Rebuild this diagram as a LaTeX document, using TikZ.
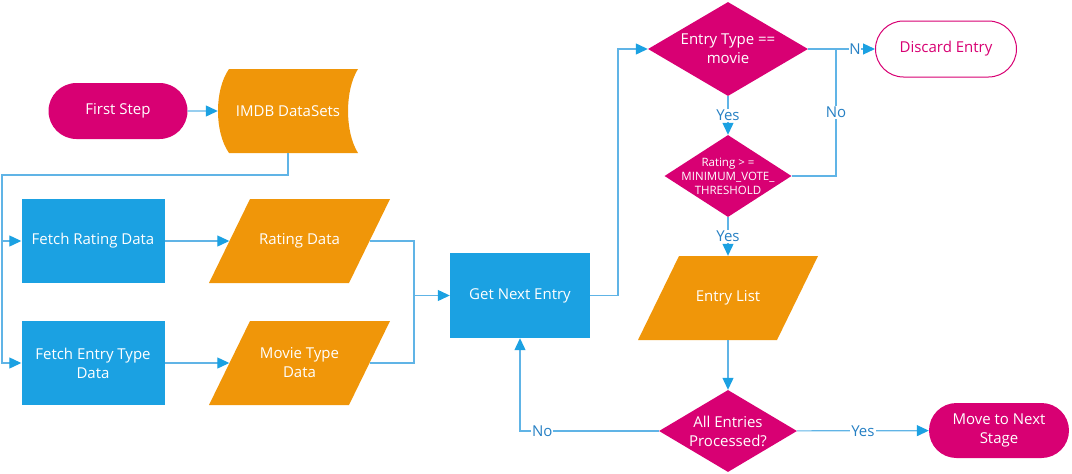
\documentclass[tikz,border=0pt]{standalone}
\usepackage{fontspec}
\setmainfont{Open Sans}
\usetikzlibrary{shapes.geometric,shapes.misc,arrows.meta}
\definecolor{mgx}{RGB}{216,0,115}
\definecolor{blx}{RGB}{27,161,226}
\definecolor{orx}{RGB}{240,150,9}
\definecolor{lnx}{RGB}{96,180,230}
\definecolor{lbx}{RGB}{38,128,196}
\tikzset{
    term/.style={rounded rectangle,fill=mgx,text=white,minimum width=139pt,minimum height=56pt,inner sep=0pt,align=center},
    proc/.style={rectangle,fill=blx,text=white,minimum width=143pt,minimum height=84pt,inner sep=0pt,align=center},
    iodat/.style={rectangle,text=white,minimum width=181pt,minimum height=84pt,inner sep=0pt,align=center,
        path picture={
            \fill[orx] ([xshift=41pt]path picture bounding box.north west)
                -- (path picture bounding box.north east)
                -- ([xshift=-41pt]path picture bounding box.south east)
                -- (path picture bounding box.south west) -- cycle;
        }},
    stored/.style={rectangle,text=white,minimum width=140pt,minimum height=84pt,inner sep=0pt,
        path picture={
            \fill[orx] ([xshift=11pt]path picture bounding box.north west)
                .. controls ([xshift=-3.7pt,yshift=-21pt]path picture bounding box.north west)
                and ([xshift=-3.7pt,yshift=21pt]path picture bounding box.south west)
                .. ([xshift=11pt]path picture bounding box.south west)
                -- (path picture bounding box.south east)
                .. controls ([xshift=-13.3pt,yshift=21pt]path picture bounding box.south east)
                and ([xshift=-13.3pt,yshift=-21pt]path picture bounding box.north east)
                .. (path picture bounding box.north east) -- cycle;
        }},
    decis/.style={diamond,fill=mgx,inner sep=0pt},
    dtext/.style={label={[text=white,align=center]center:#1}},
    wire/.style={lnx,line width=1.2pt},
    flow/.style={wire,-{Triangle[length=12pt,width=11pt,color=blx]}},
    lbl/.style={fill=white,text=lbx,inner sep=1pt}
}

\begin{document}
\begin{tikzpicture}[x=1pt,y=-1pt,font=\fontsize{15}{19}\selectfont]
    \useasboundingbox (0,0) rectangle (1072,474);
    \node [term] (first) at (118,111) {First Step};
    \node [stored] (imdb) at (288,111) {IMDB DataSets};
    \node [proc] (fetchR) at (93,241) {Fetch Rating Data};
    \node [proc] (fetchE) at (93,363) {Fetch Entry Type\\Data};
    \node [iodat] (ratD) at (299.5,241) {Rating Data};
    \node [iodat] (movD) at (299.5,363) {Movie Type\\Data};
    \node [proc,minimum width=140pt,minimum height=85pt] (getN) at (520,295.5) {Get Next Entry};
    \node [decis,minimum width=160pt,minimum height=94pt,dtext={Entry Type ==\\movie}] (typeQ) at (728,49) {};
    \node [term,fill=white,draw=mgx,line width=1pt,text=mgx,minimum width=141pt] (discard) at (946,49) {Discard Entry};
    \node [decis,minimum width=127pt,minimum height=82pt,
        label={[text=white,align=center,font=\fontsize{11.5}{14}\selectfont]center:{Rating > =\\MINIMUM\_VOTE\_\\THRESHOLD}}] (rateQ) at (728,176) {};
    \node [iodat,minimum width=180pt] (entL) at (728,298) {Entry List};
    \node [decis,minimum width=138pt,minimum height=82pt,dtext={All Entries\\Processed?}] (allQ) at (728,431) {};
    \node [term,minimum width=140pt,minimum height=55pt] (nextS) at (999,430.5) {Move to Next\\Stage};

    \coordinate (busL) at (2,175);
    \coordinate (joinA) at (414,295.5);
    \coordinate (riseA) at (618,49);
    \coordinate (joinB) at (836,49);

    \draw [flow] (first) -- (imdb);
    \draw [flow] (imdb.south) |- (busL) |- (fetchR.west);
    \draw [flow] (busL) |- (fetchE.west);
    \draw [flow] (fetchR) -- ([xshift=20.5pt]ratD.west);
    \draw [flow] (fetchE) -- ([xshift=20.5pt]movD.west);
    \draw [wire] ([xshift=-20.5pt]ratD.east) -| (joinA);
    \draw [wire] ([xshift=-20.5pt]movD.east) -| (joinA);
    \draw [flow] (joinA) -- (getN);
    \draw [flow] (getN.east) -| (riseA) -- (typeQ.west);
    \draw [flow] (typeQ) -- node [lbl] {Yes} (rateQ);
    \draw [flow] (typeQ) -- node [lbl,pos=0.7,inner sep=0.5pt] {N} (discard);
    \draw [wire] (rateQ.east) -| node [lbl,pos=0.75] {No} (joinB);
    \draw [flow] (rateQ) -- node [lbl] {Yes} (entL);
    \draw [flow] (entL) -- (allQ);
    \draw [flow] (allQ.west) -| node [lbl,pos=0.42] {No} (getN.south);
    \draw [flow] (allQ) -- node [lbl] {Yes} (nextS);
\end{tikzpicture}
\end{document}
